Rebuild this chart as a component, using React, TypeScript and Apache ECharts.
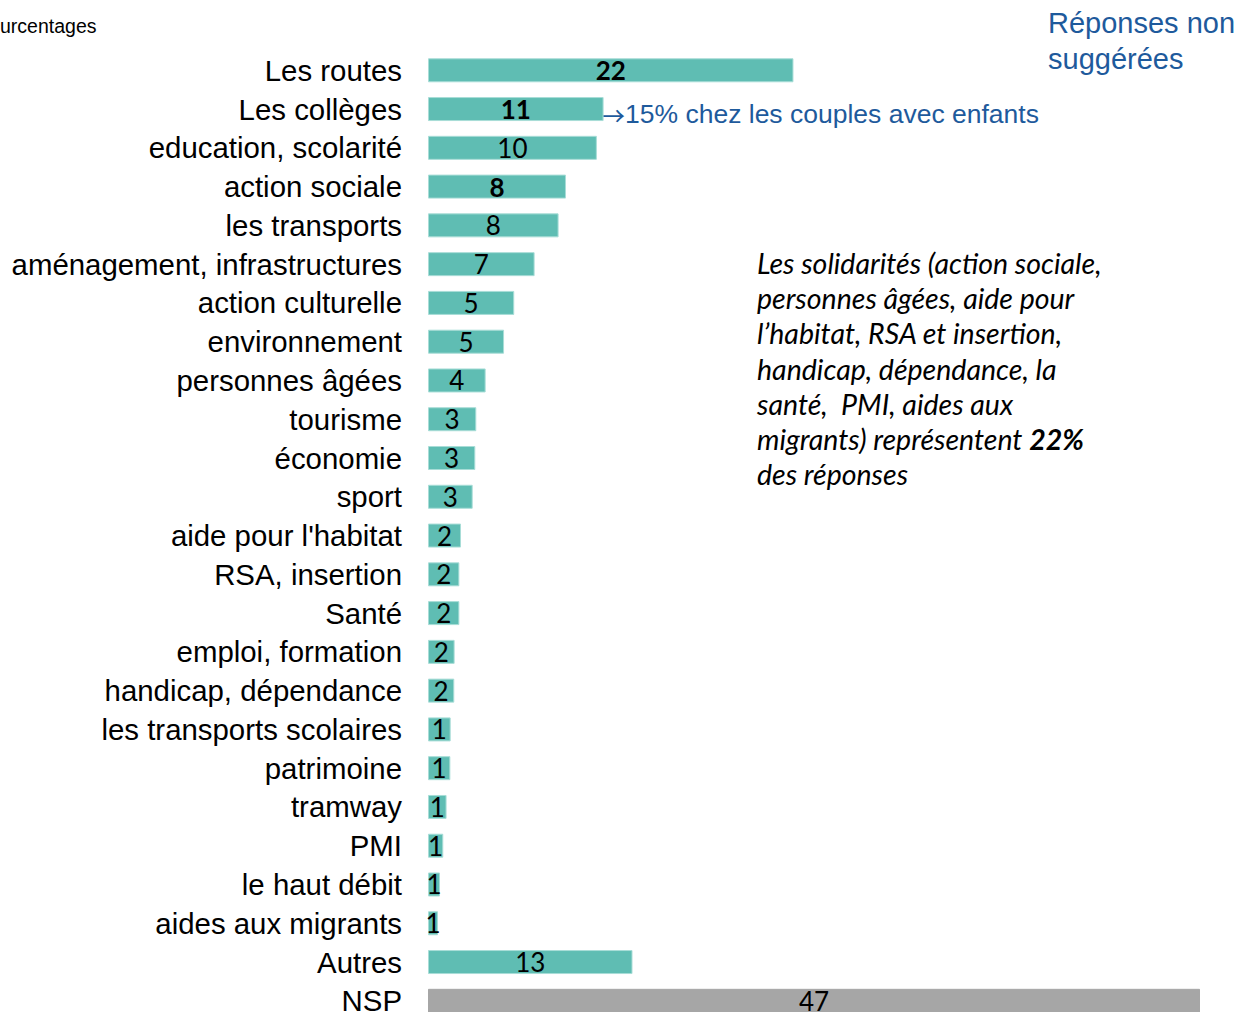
import React, { useEffect, useRef } from "react";
import * as echarts from "echarts";

const categories = [
  "Les routes",
  "Les collèges",
  "education, scolarité",
  "action sociale",
  "les transports",
  "aménagement, infrastructures",
  "action culturelle",
  "environnement",
  "personnes âgées",
  "tourisme",
  "économie",
  "sport",
  "aide pour l'habitat",
  "RSA, insertion",
  "Santé",
  "emploi, formation",
  "handicap, dépendance",
  "les transports scolaires",
  "patrimoine",
  "tramway",
  "PMI",
  "le haut débit",
  "aides aux migrants",
  "Autres",
  "NSP",
];

const values = [
  22.25, 10.69, 10.28, 8.4, 7.95, 6.49, 5.25, 4.63, 3.51, 2.94, 2.88, 2.72,
  2.01, 1.91, 1.91, 1.62, 1.6, 1.38, 1.36, 1.13, 0.93, 0.73, 0.61, 12.45, 47,
];

const valueLabels = [
  "22", "11", "10", "8", "8", "7", "5", "5", "4", "3", "3", "3", "2", "2", "2",
  "2", "2", "1", "1", "1", "1", "1", "1", "13", "47",
];

const boldCategories = ["Les routes", "Les collèges", "action sociale"];
const greyCategories = ["NSP"];

const noteLines = [
  "Les solidarités (action sociale,",
  "personnes âgées, aide pour",
  "l’habitat, RSA et insertion,",
  "handicap, dépendance, la",
  "santé,  PMI, aides aux",
  "migrants) représentent {b|22%}",
  "des réponses",
];

const TEAL = "#5FBDB3";
const GREY = "#A6A6A6";
const BLUE = "#1E5A9C";

export default function App() {
  const ref = useRef<HTMLDivElement>(null);

  useEffect(() => {
    if (!ref.current) return;
    const chart = echarts.init(ref.current, null, { renderer: "svg" });

    const data = categories.map((c, i) => {
      const bold = boldCategories.includes(c);
      const grey = greyCategories.includes(c);
      return {
        value: values[i],
        itemStyle: {
          color: grey ? GREY : TEAL,
          borderColor: grey ? GREY : "#A8DDD7",
          borderWidth: 1,
        },
        label: {
          show: true,
          position: "inside",
          formatter: valueLabels[i],
          fontFamily: "Lato",
          fontSize: 26,
          fontWeight: bold ? "bold" : "normal",
          color: "#000",
          offset: [0, 3],
        },
      };
    });

    chart.setOption({
      animation: false,
      backgroundColor: "#fff",
      grid: { left: 428, top: 50.9, width: 772, height: 969.3, containLabel: false },
      xAxis: {
        type: "value",
        min: 0,
        max: 47,
        show: false,
        splitLine: { show: false },
      },
      yAxis: {
        type: "category",
        data: categories,
        inverse: true,
        axisLine: { show: false },
        axisTick: { show: false },
        splitLine: { show: false },
        axisLabel: {
          fontFamily: "Liberation Sans",
          fontSize: 29.4,
          color: "#000",
          margin: 26,
        },
      },
      series: [
        {
          type: "bar",
          data,
          barWidth: 24,
          labelLayout: { hideOverlap: false },
        },
      ],
      graphic: [
        {
          type: "text",
          x: 0,
          y: 26,
          style: {
            text: "urcentages",
            fontFamily: "Liberation Sans",
            fontSize: 19.5,
            fill: "#000",
            align: "left",
            verticalAlign: "middle",
          },
        },
        {
          type: "text",
          x: 1048,
          y: 5,
          style: {
            text: "Réponses non\nsuggérées",
            fontFamily: "Liberation Sans",
            fontSize: 29,
            lineHeight: 36,
            fill: BLUE,
            align: "left",
            verticalAlign: "top",
          },
        },
        {
          type: "text",
          x: 599,
          y: 114,
          style: {
            text: "{a|→}15% chez les couples avec enfants",
            fontFamily: "Liberation Sans",
            fontSize: 26.5,
            fill: BLUE,
            align: "left",
            verticalAlign: "middle",
            rich: {
              a: {
                fontFamily: "Noto Sans CJK SC",
                fontSize: 26,
                fill: BLUE,
              },
            },
          },
        },
        {
          type: "text",
          x: 757,
          y: 245.4,
          style: {
            text: noteLines.join("\n"),
            fontFamily: "Lato",
            fontStyle: "italic",
            fontSize: 28.5,
            lineHeight: 35.2,
            fill: "#000",
            align: "left",
            verticalAlign: "top",
            rich: {
              b: {
                fontFamily: "Lato",
                fontStyle: "italic",
                fontWeight: "bold",
                fontSize: 28.5,
                lineHeight: 35.2,
                fill: "#000",
              },
            },
          },
        },
      ],
    });

    return () => chart.dispose();
  }, []);

  return (
    <div
      style={{
        position: "absolute",
        left: 0,
        top: 0,
        width: 1239,
        height: 1012,
        overflow: "hidden",
      }}
    >
      <div ref={ref} style={{ width: 1239, height: 1030 }} />
    </div>
  );
}
